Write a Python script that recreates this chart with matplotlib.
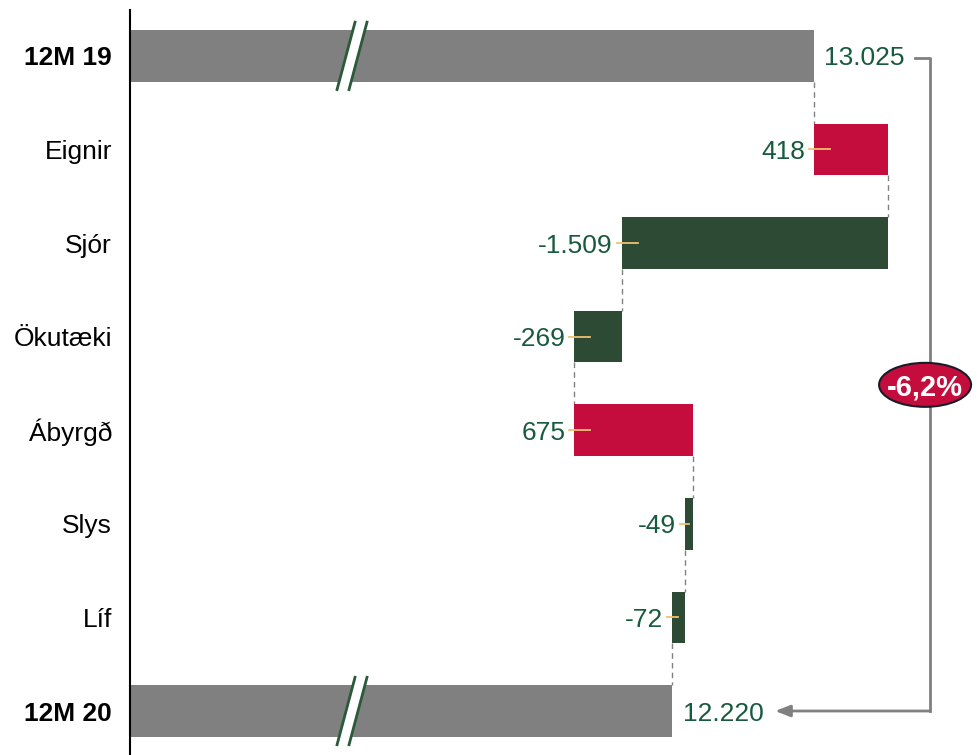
import matplotlib.pyplot as plt
from matplotlib.patches import Ellipse, Polygon

plt.rcParams['font.family'] = ['Liberation Sans', 'DejaVu Sans']

# data
categories = ["12M 19", "Eignir", "Sjór", "Ökutæki", "Ábyrgð", "Slys", "Líf", "12M 20"]
start_value = 13025
deltas = [418, -1509, -269, 675, -49, -72]
end_value = 12220
change_label = "-6,2%"

RED = "#c40d3c"
GREEN = "#2c4a34"
GRAY = "#808080"
TEXT_GREEN = "#185a3e"
LEADER = "#f0c070"
FS = 19


def fmt(v):
    return f"{v:,}".replace(",", ".")


fig = plt.figure(figsize=(9.79, 7.55), dpi=100)
ax = fig.add_axes([130 / 979, 0, 849 / 979, 745 / 755])

x0, x1 = 9143, 13961
ax.set_xlim(x0, x1)
ax.set_ylim(7.47, -0.49)
px = (x1 - x0) / 849  # data units per pixel
h = 0.55

# start / end totals
ax.barh(0, start_value - x0, left=x0, height=h, color=GRAY)
ax.barh(7, end_value - x0, left=x0, height=h, color=GRAY)
ax.text(start_value + 10 * px, 0, fmt(start_value), va="center_baseline", ha="left",
        fontsize=FS, color=TEXT_GREEN)
ax.text(end_value + 11 * px, 7, fmt(end_value), va="center_baseline", ha="left",
        fontsize=FS, color=TEXT_GREEN)

# break marks on the total bars
for yb in (0, 7):
    a = (10318, yb + 0.36)
    b = (10420, yb - 0.36)
    c = (10488, yb - 0.36)
    d = (10386, yb + 0.36)
    ax.add_patch(Polygon([a, b, c, d], closed=True, facecolor="white",
                         edgecolor="none", zorder=3))
    ax.plot([a[0], b[0]], [a[1], b[1]], color="#2a5a3a", lw=2, zorder=4)
    ax.plot([d[0], c[0]], [d[1], c[1]], color="#2a5a3a", lw=2, zorder=4)

# change bars
level = start_value
levels = [level]
for i, dv in enumerate(deltas, start=1):
    left = min(level, level + dv)
    ax.barh(i, abs(dv), left=left, height=h, color=RED if dv > 0 else GREEN, zorder=2)
    lead_end = min(left + 16 * px, left + abs(dv) / 2)
    ax.plot([left - 5 * px, lead_end], [i, i], color=LEADER, lw=1.3, zorder=3)
    ax.text(left - 9 * px, i, fmt(dv), va="center_baseline", ha="right", fontsize=FS,
            color=TEXT_GREEN)
    level += dv
    levels.append(level)

# dashed connectors
for i, lv in enumerate(levels):
    ax.plot([lv, lv], [i + h / 2, i + 1 - h / 2], color=GRAY, lw=1,
            ls=(0, (4, 3)), zorder=1)

# bracket arrow with percentage
xr = 13683
ax.plot([13598, xr, xr], [0.02, 0.02, 7], color=GRAY, lw=2, zorder=1)
ax.annotate("", xy=(12804, 7), xytext=(xr + 1, 7),
            arrowprops=dict(arrowstyle="-|>,head_length=0.9,head_width=0.35",
                            color=GRAY, lw=2, shrinkA=0, shrinkB=0))
ax.add_patch(Ellipse((13655, 3.515), 92 * px, 0.47, facecolor=RED,
                     edgecolor="#1a1a2a", lw=1.5, zorder=5))
ax.text(13655, 3.515, change_label, ha="center", va="center_baseline", fontsize=21,
        fontweight="bold", color="white", zorder=6)

# axes styling
ax.set_yticks(range(len(categories)))
ax.set_yticklabels(categories, fontsize=FS)
for k in (0, 7):
    ax.get_yticklabels()[k].set_fontweight("bold")
ax.tick_params(axis="y", length=0, pad=13)
ax.set_xticks([])
for s in ("top", "right", "bottom"):
    ax.spines[s].set_visible(False)
ax.spines["left"].set_linewidth(1.5)

fig.savefig("out.png", dpi=100)
